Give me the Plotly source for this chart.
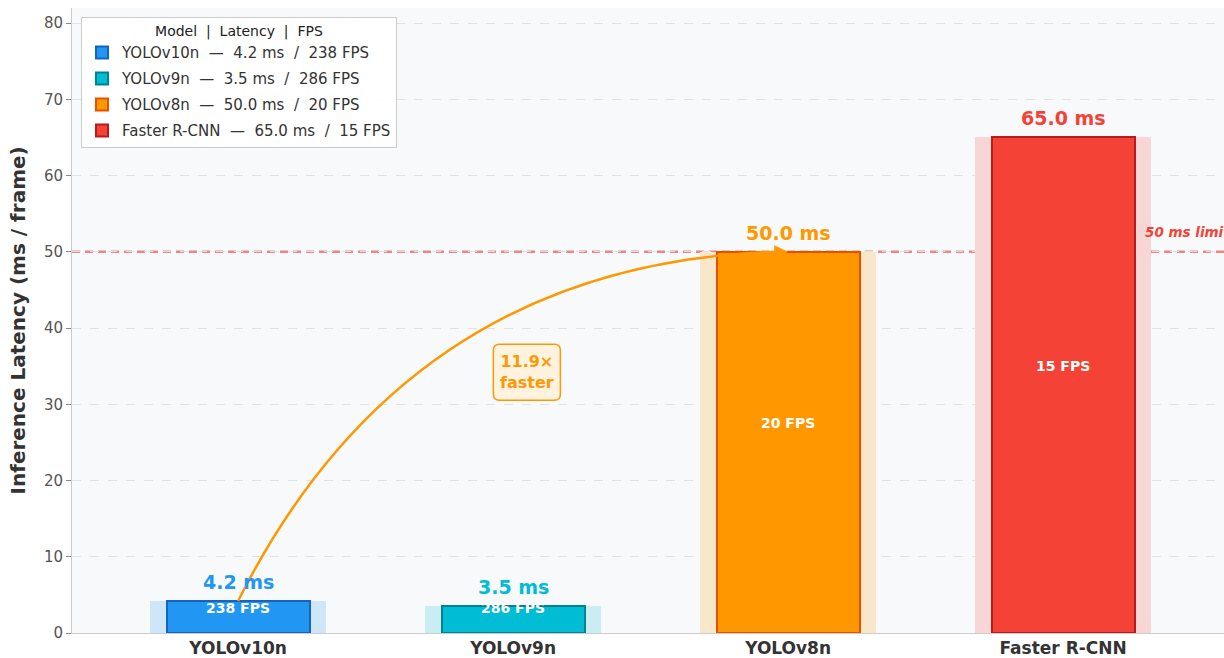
import plotly.graph_objects as go

# ---- data -------------------------------------------------------------
models = ["YOLOv10n", "YOLOv9n", "YOLOv8n", "Faster R-CNN"]
latency_ms = [4.2, 3.5, 50.0, 65.0]
fps = [238, 286, 20, 15]
fill_colors = ["#2196F3", "#00BCD4", "#FF9800", "#F44336"]
edge_colors = ["#1565C0", "#00838F", "#E65100", "#B71C1C"]
y_ticks = [0, 10, 20, 30, 40, 50, 60, 70, 80]
limit_ms = 50.0

# ---- geometry / style ---------------------------------------------------
W, H = 1224, 658
M_L, M_R, M_T, M_B = 72, 0, 8, 25
X_RANGE = [-0.604, 3.585]
Y_RANGE = [0, 81.97]
PLOT_BG = (248, 249, 250)
FONT = "DejaVu Sans"
BAR_W, HALO_W = 0.52, 0.64


def blend(hex_color, alpha, bg=PLOT_BG):
    h = hex_color.lstrip("#")
    rgb = [int(h[i:i + 2], 16) for i in (0, 2, 4)]
    mixed = [round(alpha * c + (1 - alpha) * b) for c, b in zip(rgb, bg)]
    return "rgb({},{},{})".format(*mixed)


x_pos = list(range(len(models)))
fig = go.Figure()

# soft halo behind each bar
fig.add_trace(go.Bar(
    x=x_pos, y=latency_ms, width=HALO_W,
    marker=dict(color=[blend(c, 0.19) for c in fill_colors], line=dict(width=0)),
    showlegend=False, hoverinfo="skip",
))

# main bars, one trace per model for the legend
for i, m in enumerate(models):
    fig.add_trace(go.Bar(
        x=[x_pos[i]], y=[latency_ms[i]], width=BAR_W,
        marker=dict(color=fill_colors[i], line=dict(color=edge_colors[i], width=2)),
        name=f"{m}  —  {latency_ms[i]:.1f} ms  /  {fps[i]} FPS",
        legendgroup=m,
    ))

annotations = []
for i, v in enumerate(latency_ms):
    # latency value above the bar
    annotations.append(dict(
        x=x_pos[i], y=v, yshift=19, text=f"{v:.1f} ms", showarrow=False,
        yanchor="middle", font=dict(family=FONT, size=19, color=fill_colors[i], weight="bold"),
    ))
    # FPS inside the bar
    fps_y = v * 0.5 + 2.5 if v > 10 else 3.3
    annotations.append(dict(
        x=x_pos[i], y=fps_y, text=f"{fps[i]} FPS", showarrow=False,
        yanchor="middle", font=dict(family=FONT, size=14, color="white", weight="bold"),
    ))

# limit label
annotations.append(dict(
    x=3.3, y=limit_ms, yshift=20, xshift=-3, text="<i>50 ms limit</i>", showarrow=False,
    xanchor="left", yanchor="middle",
    font=dict(family=FONT, size=13.5, color="#F44336", weight="bold"),
))

# y axis title
annotations.append(dict(
    xref="paper", yref="paper", x=(17 - M_L) / (W - M_L - M_R), y=0.5,
    text="Inference Latency (ms / frame)", textangle=-90, showarrow=False,
    xanchor="center", yanchor="middle",
    font=dict(family=FONT, size=20, color="#333333", weight="bold"),
))

# curved arrow from YOLOv10n to YOLOv8n (arc3-style quadratic bezier)
x0, y0 = x_pos[0], latency_ms[0]
x1, y1 = x_pos[2], latency_ms[2]
px_x = (W - M_L - M_R) / (X_RANGE[1] - X_RANGE[0])
px_y = (H - M_T - M_B) / (Y_RANGE[1] - Y_RANGE[0])
rad = -0.3
dx_px, dy_px = (x1 - x0) * px_x, (y1 - y0) * px_y
cx = (x0 + x1) / 2 + rad * dy_px / px_x
cy = (y0 + y1) / 2 - rad * dx_px / px_y

shapes = [
    dict(type="line", xref="paper", x0=0, x1=1, y0=limit_ms, y1=limit_ms,
         line=dict(color="rgba(229,57,53,0.6)", width=2.5, dash="8px,5px"), layer="below"),
    dict(type="path", path=f"M {x0},{y0} Q {cx},{cy} {x1 - 0.03},{y1}",
         line=dict(color="#FF9800", width=2.5), layer="above"),
]

annotations.append(dict(
    x=x1, y=y1, ax=-20, ay=0.6, text="", showarrow=True,
    arrowhead=2, arrowsize=1.1, arrowwidth=2.5, arrowcolor="#FF9800", standoff=0,
))

# speed-up badge
speedup = latency_ms[2] / latency_ms[0]
bx, by = 1.05, 34.2
bw, bh, br = 67, 56, 6
hw, hh = bw / 2, bh / 2
badge = (f"M {-hw + br},{-hh} L {hw - br},{-hh} Q {hw},{-hh} {hw},{-hh + br} "
         f"L {hw},{hh - br} Q {hw},{hh} {hw - br},{hh} L {-hw + br},{hh} "
         f"Q {-hw},{hh} {-hw},{hh - br} L {-hw},{-hh + br} Q {-hw},{-hh} {-hw + br},{-hh} Z")
shapes.append(dict(type="path", xsizemode="pixel", ysizemode="pixel",
                   xanchor=bx, yanchor=by, path=badge,
                   fillcolor="#FFF3E0", line=dict(color="#FF9800", width=1.5), layer="above"))
annotations.append(dict(
    x=bx, y=by, text=f"{speedup:.1f}×<br>faster", showarrow=False,
    yanchor="middle", xanchor="center",
    font=dict(family=FONT, size=16, color="#FF9800", weight="bold"),
))

fig.update_layout(
    width=W, height=H,
    margin=dict(l=M_L, r=M_R, t=M_T, b=M_B, autoexpand=False),
    paper_bgcolor="white",
    plot_bgcolor="rgb({},{},{})".format(*PLOT_BG),
    barmode="overlay",
    bargap=0,
    font=dict(family=FONT, color="#333333"),
    showlegend=True,
    legend=dict(
        x=(81 - M_L) / (W - M_L - M_R), y=1 - (17 - M_T) / (H - M_T - M_B),
        xanchor="left", yanchor="top",
        bgcolor="rgba(255,255,255,0.92)", bordercolor="#cccccc", borderwidth=1,
        font=dict(family=FONT, size=15, color="#333333"),
        title=dict(text="Model  |  Latency  |  FPS", side="top center",
                   font=dict(family=FONT, size=14, color="#222222")),
        itemwidth=30, tracegroupgap=3.5, traceorder="grouped",
    ),
    xaxis=dict(
        range=X_RANGE, tickvals=x_pos, ticktext=models,
        showgrid=False, zeroline=False, showline=True, linecolor="#cccccc", linewidth=1,
        ticks="", tickfont=dict(family=FONT, size=17, color="#333333", weight="bold"),
        fixedrange=True,
    ),
    yaxis=dict(
        range=Y_RANGE, tickvals=y_ticks,
        showgrid=True, gridcolor="#dfe1e4", griddash="dash", gridwidth=1,
        zeroline=False, showline=True, linecolor="#cccccc", linewidth=1,
        ticks="outside", ticklen=5, tickcolor="#888888",
        tickfont=dict(family=FONT, size=15, color="#555555"),
        fixedrange=True,
    ),
    shapes=shapes,
    annotations=annotations,
)

fig.write_html("out.html")
